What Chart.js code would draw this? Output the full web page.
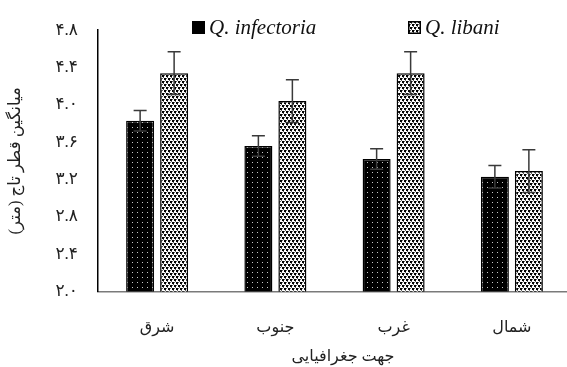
<!DOCTYPE html>
<html>
<head>
<meta charset="utf-8">
<script src="https://cdn.jsdelivr.net/npm/chart.js@4/dist/chart.umd.min.js"></script>
<style>
  html, body { margin: 0; padding: 0; background: #fff; overflow: hidden; }
  #wrap { width: 567px; height: 367px; overflow: hidden; }
  canvas { display: block; }
</style>
</head>
<body>
<div id="wrap"><canvas id="chart" width="572" height="367"></canvas></div>
<script>
// Mean crown diameter (m) by geographic aspect, with standard errors
const directions = ['شرق', 'جنوب', 'غرب', 'شمال'];
const infectoriaMean = [3.83, 3.56, 3.42, 3.23];
const infectoriaErr = [0.11, 0.11, 0.11, 0.12];
const libaniMean = [4.34, 4.04, 4.34, 3.29];
const libaniErr = [0.23, 0.23, 0.23, 0.23];
const yTickLabels = ['۲.۰', '۲.۴', '۲.۸', '۳.۲', '۳.۶', '۴.۰', '۴.۴', '۴.۸'];
const seriesNames = ['Q. infectoria', 'Q. libani'];
const yTitle = 'میانگین قطر تاج (متر)';
const xTitle = 'جهت جغرافیایی';

const faFont = "'Liberation Serif', 'DejaVu Sans', serif";

// Fill patterns: black with light dots, white with dark dots
function dotsOnBlack() {
  const t = document.createElement('canvas');
  t.width = 5; t.height = 5;
  const c = t.getContext('2d');
  c.fillStyle = '#000'; c.fillRect(0, 0, 5, 5);
  c.fillStyle = '#c8c8c8'; c.fillRect(2, 2, 1, 1);
  return c.createPattern(t, 'repeat');
}
function dotsOnWhite() {
  const t = document.createElement('canvas');
  t.width = 4; t.height = 6;
  const c = t.getContext('2d');
  c.fillStyle = '#fff'; c.fillRect(0, 0, 4, 6);
  c.fillStyle = '#000';
  c.fillRect(0, 0, 2, 2);
  c.fillRect(2, 3, 2, 2);
  c.fillStyle = '#666';
  c.fillRect(2, 0, 1, 1);
  c.fillRect(0, 3, 1, 1);
  c.fillRect(1, 2, 1, 1);
  c.fillRect(3, 5, 1, 1);
  return c.createPattern(t, 'repeat');
}
const fillA = dotsOnBlack();
const fillB = dotsOnWhite();

// Error bars drawn from the dataset's error array via the y scale
const errorBars = {
  id: 'errorBars',
  afterDatasetsDraw(chart) {
    const ctx = chart.ctx;
    const y = chart.scales.y;
    chart.data.datasets.forEach((ds, i) => {
      const meta = chart.getDatasetMeta(i);
      meta.data.forEach((bar, j) => {
        const v = ds.data[j], e = ds.errors[j];
        const yt = y.getPixelForValue(v + e);
        const yb = y.getPixelForValue(v - e);
        const x = bar.x, cap = 6.5;
        ctx.save();
        ctx.strokeStyle = '#3a3a3a';
        ctx.lineWidth = 1.5;
        ctx.beginPath();
        ctx.moveTo(x, yt); ctx.lineTo(x, yb);
        ctx.moveTo(x - cap, yt); ctx.lineTo(x + cap, yt);
        ctx.moveTo(x - cap, yb); ctx.lineTo(x + cap, yb);
        ctx.stroke();
        ctx.restore();
      });
    });
  }
};

// Legend row and x-axis caption
const decorations = {
  id: 'decorations',
  afterDraw(chart) {
    const ctx = chart.ctx;
    ctx.save();
    const items = [{ x: 192 }, { x: 408 }];
    chart.data.datasets.forEach((ds, i) => {
      const it = items[i];
      ctx.fillStyle = i === 0 ? '#000' : ds.backgroundColor;
      ctx.fillRect(it.x, 21, 13, 13);
      ctx.strokeStyle = '#000';
      ctx.lineWidth = 1.5;
      ctx.strokeRect(it.x + 0.75, 21.75, 11.5, 11.5);
      ctx.fillStyle = '#111';
      ctx.font = "italic 21px 'Liberation Serif', serif";
      ctx.textBaseline = 'middle';
      ctx.textAlign = 'left';
      ctx.fillText(ds.label, it.x + 17, 28);
    });
    ctx.font = '16px ' + faFont;
    ctx.fillStyle = '#222';
    ctx.textAlign = 'center';
    ctx.textBaseline = 'middle';
    ctx.direction = 'rtl';
    ctx.fillText(xTitle, 343, 357);
    ctx.restore();
  }
};

new Chart(document.getElementById('chart'), {
  type: 'bar',
  data: {
    labels: directions,
    datasets: [
      {
        label: seriesNames[0],
        data: infectoriaMean,
        errors: infectoriaErr,
        backgroundColor: fillA,
        borderColor: '#000',
        borderWidth: 1.5,
        categoryPercentage: 0.575,
        barPercentage: 0.824
      },
      {
        label: seriesNames[1],
        data: libaniMean,
        errors: libaniErr,
        backgroundColor: fillB,
        borderColor: '#000',
        borderWidth: 1.5,
        categoryPercentage: 0.575,
        barPercentage: 0.824
      }
    ]
  },
  options: {
    responsive: false,
    animation: false,
    layout: { padding: { top: 27, right: 1, left: 0, bottom: 0 } },
    plugins: { legend: { display: false }, tooltip: { enabled: false } },
    scales: {
      x: {
        grid: { display: false, drawTicks: false },
        border: { display: true, color: '#7a7a7a', width: 1.5 },
        ticks: { padding: 27, color: '#222', font: { size: 16, family: faFont } },
        afterFit(s) { s.height = 75.5; }
      },
      y: {
        min: 2.0,
        max: 4.8,
        grid: { display: false, drawTicks: false },
        border: { display: true, color: '#000', width: 1.5 },
        ticks: {
          stepSize: 0.4,
          padding: 20,
          color: '#222',
          font: { size: 17, family: faFont },
          callback: (v, i) => yTickLabels[i]
        },
        title: {
          display: true,
          text: yTitle,
          color: '#222',
          font: { size: 16.5, family: faFont },
          padding: { top: 6, bottom: 0 }
        },
        afterFit(s) { s.width = 98; }
      }
    }
  },
  plugins: [errorBars, decorations]
});
</script>
</body>
</html>
